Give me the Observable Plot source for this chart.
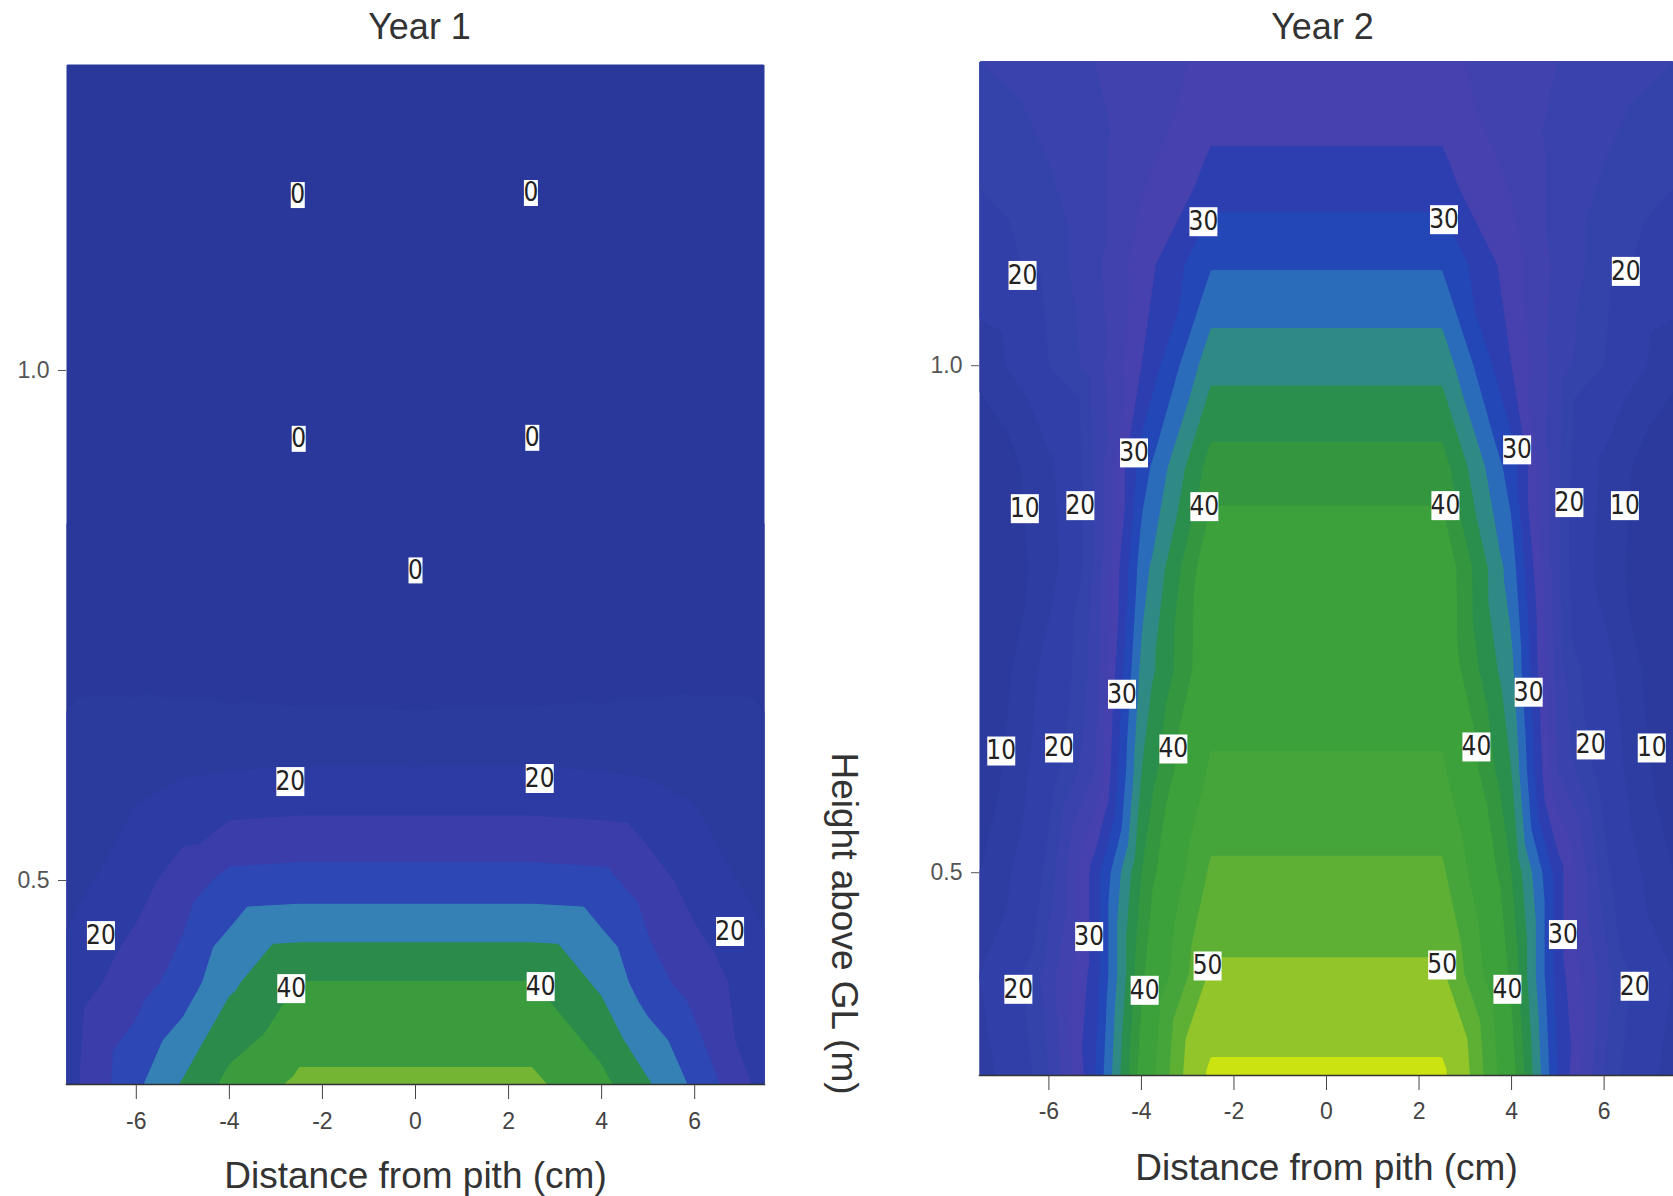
<!DOCTYPE html>
<html><head><meta charset="utf-8">
<script src="https://cdn.jsdelivr.net/npm/d3@7"></script>
<script src="https://cdn.jsdelivr.net/npm/@observablehq/plot@0.6"></script>
<style>
html,body{margin:0;padding:0;background:#fff;overflow:hidden;}
#wrap{position:relative;width:1673px;height:1196px;}
#p1{position:absolute;left:0;top:0;width:790px;height:1196px;}
#p2{position:absolute;left:790px;top:0;width:883px;height:1196px;}
</style></head><body><div id="wrap"><div id="p1"></div><div id="p2"></div></div>
<script>
// ---- data: sample grid (distance from pith, cm) x (height above GL, m)
const distances = [-7.5, -6, -5, -4, -2.5, 0, 2.5, 4, 5, 6, 7.5];
const heights = [0.3, 0.4, 0.5, 0.6, 0.7, 0.8, 0.9, 1.0, 1.1, 1.2, 1.3];

const year1Values = [
  [18, 29, 35.5, 41.5, 46, 46, 46, 41.5, 35.5, 29, 18],
  [17, 22.8, 27.2, 34, 40.2, 40.2, 40.2, 34, 27.2, 22.8, 17],
  [13, 18, 22.5, 26.5, 27, 27, 27, 26.5, 22.5, 18, 13],
  [12, 14, 15, 15.5, 16, 16, 16, 15.5, 15, 14, 12],
  [9, 9, 8.5, 8, 7.5, 7, 7.5, 8, 8.5, 9, 9],
  [6, 6, 5, 4, 2, 0.5, 2, 4, 5, 6, 6],
  [4, 4, 4, 3, 0.5, 1, 0.5, 3, 4, 4, 4],
  [3, 3, 3, 3, 1, 2, 1, 3, 3, 3, 3],
  [3, 3, 3, 2, 1, 2, 1, 2, 3, 3, 3],
  [3, 3, 3, 2, 0.5, 2, 0.5, 2, 3, 3, 3],
  [3, 3, 3, 2, 2, 2, 2, 2, 3, 3, 3]
];

const year2Values = [
  [13, 22, 30, 41, 56, 56, 56, 41, 30, 22, 13],
  [15, 23, 29, 39.5, 50.5, 50.5, 50.5, 39.5, 29, 23, 15],
  [10, 21, 29, 38, 47.5, 47.5, 47.5, 38, 29, 21, 10],
  [6, 18.7, 24, 36, 44.5, 44.5, 44.5, 36, 24, 18.7, 6],
  [4, 17, 23, 34.5, 42, 42, 42, 34.5, 23, 17, 4],
  [3, 13, 22.5, 33, 41.8, 41.8, 41.8, 33, 22.5, 13, 3],
  [4, 14, 22.5, 31, 38.9, 38.9, 38.9, 31, 22.5, 14, 4],
  [12, 20, 23, 28, 35.3, 35.3, 35.3, 28, 23, 20, 12],
  [18.5, 21, 23.5, 27, 31.8, 31.8, 31.8, 27, 23.5, 21, 18.5],
  [20.5, 22, 23.5, 25.5, 28.3, 28.3, 28.3, 25.5, 23.5, 22, 20.5],
  [22, 23, 24, 25, 26.5, 26.5, 26.5, 25, 24, 23, 22]
];

// contour levels and band colours
const levels1 = [0, 5, 10, 15, 20, 25, 30, 35, 40, 45, 50];
const colors1 = ["#29389a", "#29389a", "#2a3a9d", "#2d3ca4", "#3b3daa", "#2d47b4",
                 "#3581b6", "#2a8b4a", "#3a9c3c", "#74b534", "#b8d820"];
const levels2 = [0, 10, 15, 20, 22, 24, 26, 28, 30, 32, 34, 36, 38, 40, 44, 47, 50, 55];
const colors2 = ["#2b3a9c", "#2d3da2", "#3140a8", "#3443aa", "#3a43ad", "#4242ae", "#4641ae",
                 "#2c3eb0", "#2447b8", "#2a6cb9", "#2f8a86", "#2a8f4c", "#34963f", "#3ca13b",
                 "#46a53a", "#5db034", "#92c52a", "#cce312"];

// contour labels
const label1X = [-2.53, 2.48, -2.51, 2.51, 0, -2.69, 2.67, -6.76, 6.76, -2.67, 2.69];
const label1H = [1.172, 1.174, 0.933, 0.934, 0.804, 0.597, 0.600, 0.446, 0.450, 0.394, 0.396];
const label1Text = ["0", "0", "0", "0", "0", "20", "20", "20", "20", "40", "40"];

const label2X = [-2.66, 2.54, -4.16, 4.12, -4.42, 4.37, -5.13, 5.11,
                 -6.57, 6.47, -5.32, 5.25, -5.78, 5.71, -6.66, 6.66,
                 -6.52, 6.45, -7.03, 7.03,
                 -2.64, 2.57, -3.31, 3.24, -3.93, 3.91,
                 -2.57, 2.50];
const label2H = [1.142, 1.144, 0.914, 0.917, 0.676, 0.678, 0.437, 0.439,
                 1.089, 1.093, 0.862, 0.865, 0.623, 0.626, 0.385, 0.388,
                 0.859, 0.862, 0.620, 0.623,
                 0.861, 0.862, 0.622, 0.624, 0.384, 0.385,
                 0.408, 0.409];
const label2Text = ["30", "30", "30", "30", "30", "30", "30", "30",
                    "20", "20", "20", "20", "20", "20", "20", "20",
                    "10", "10", "10", "10",
                    "40", "40", "40", "40", "40", "40",
                    "50", "50"];

const xTicks = [-6, -4, -2, 0, 2, 4, 6];
const yTicks = [0.5, 1.0];
const xTitle = "Distance from pith (cm)";
const yTitle = "Height above GL (m)";

// ---- build tables
const toPoints = (vals) => heights.flatMap((h, i) => distances.map((x, j) => ({x, h, v: vals[i][j]})));
const toLabels = (xs, hs, ts) => xs.map((x, i) => ({x, h: hs[i], t: ts[i]}));
const points1 = toPoints(year1Values);
const points2 = toPoints(year2Values);
const labels1 = toLabels(label1X, label1H, label1Text);
const labels2 = toLabels(label2X, label2H, label2Text);

const box = (w, h) => ({draw(ctx) { ctx.rect(-w / 2, -h / 2, w, h); }});
const labelFont = "'Liberation Sans Narrow', 'DejaVu Sans Condensed', 'Liberation Sans', sans-serif";
const baseStyle = {fontFamily: "'Liberation Sans', Arial, sans-serif", background: "transparent", overflow: "visible", maxWidth: "none"};

function panel({points, labels, levels, colors, title, width, marginLeft, marginRight, marginTop, marginBottom, titleDx, xTitleDy, tickPad, extra}) {
  return Plot.plot({
    width, height: 1196, marginLeft, marginRight, marginTop, marginBottom,
    style: baseStyle,
    x: {domain: [-7.5, 7.5]},
    y: {domain: [0.3, 1.3]},
    color: {type: "threshold", domain: levels.slice(1), range: colors},
    marks: [
      Plot.contour(points, {x: "x", y: "h", fill: "v", thresholds: levels, interpolate: "barycentric", stroke: "none"}),
      Plot.frame({anchor: "bottom", stroke: "#333", strokeWidth: 1.5}),
      Plot.axisX(xTicks, {tickSize: 15, tickPadding: tickPad, fontSize: 23, tickFormat: d => String(d), label: null, color: "#444"}),
      Plot.axisY(yTicks, {tickSize: 8, tickPadding: 9, fontSize: 23, tickFormat: ".1f", label: null, color: "#555"}),
      Plot.dot(labels.filter(d => d.t.length === 1), {x: "x", y: "h", symbol: box(14, 26), fill: "white"}),
      Plot.dot(labels.filter(d => d.t.length > 1), {x: "x", y: "h", symbol: box(28, 29), fill: "white"}),
      Plot.text(labels, {x: "x", y: "h", text: "t", fill: "#222", fontSize: 26, fontFamily: labelFont}),
      Plot.text([title], {frameAnchor: "top", lineAnchor: "middle", text: d => d, dy: -(marginTop - 27), dx: titleDx, fontSize: 36, fill: "#333"}),
      Plot.text([xTitle], {frameAnchor: "bottom", lineAnchor: "middle", text: d => d, dy: xTitleDy, fontSize: 37, fill: "#333"}),
      ...(extra || [])
    ]
  });
}

document.getElementById("p1").append(panel({
  points: points1, labels: labels1, levels: levels1, colors: colors1, title: "Year 1",
  width: 790, marginLeft: 66, marginRight: 26, marginTop: 64, marginBottom: 112, titleDx: 4,
  xTitleDy: 92, tickPad: 13
}));

document.getElementById("p2").append(panel({
  points: points2, labels: labels2, levels: levels2, colors: colors2, title: "Year 2",
  width: 883, marginLeft: 189, marginRight: 0, marginTop: 61, marginBottom: 121, titleDx: -4,
  xTitleDy: 93, tickPad: 12,
  extra: [Plot.text([yTitle], {frameAnchor: "left", textAnchor: "middle", lineAnchor: "middle", text: d => d, rotate: 90, dx: -136, dy: 355, fontSize: 37, fill: "#333"})]
}));
</script></body></html>
